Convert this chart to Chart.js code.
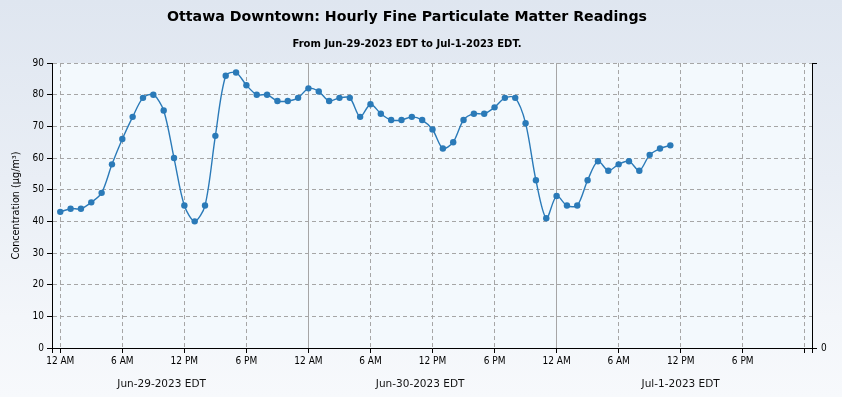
<!DOCTYPE html>
<html><head><meta charset="utf-8">
<script src="https://cdn.jsdelivr.net/npm/chart.js@4.4.1/dist/chart.umd.min.js"></script>
<style>
html,body{margin:0;padding:0;}
body{width:842px;height:397px;overflow:hidden;background:linear-gradient(to bottom,#dfe6f0 0%,#e9eef5 45%,#f3f6fa 80%,#f7f9fc 100%);}
#c{display:block;}
</style></head><body>
<canvas id="c" width="842" height="397"></canvas>
<script>
const titleText = "Ottawa Downtown: Hourly Fine Particulate Matter Readings";
const subtitleText = "From Jun-29-2023 EDT to Jul-1-2023 EDT.";
const yAxisTitle = "Concentration (µg/m³)";

// hours since 12 AM Jun-29-2023 EDT
const hours = [0,1,2,3,4,5,6,7,8,9,10,11,12,13,14,15,16,17,18,19,20,21,22,23,
  24,25,26,27,28,29,30,31,32,33,34,35,36,37,38,39,40,41,42,43,44,45,46,47,
  48,49,50,51,52,53,54,55,56,57,58,59];
// PM2.5 concentration (µg/m³)
const pm25 = [43,44,44,46,49,58,66,73,79,80,75,60,45,40,45,67,86,87,83,80,80,78,78,79,
  82,81,78,79,79,73,77,74,72,72,73,72,69,63,65,72,74,74,76,79,79,71,53,41,
  48,45,45,53,59,56,58,59,56,61,63,64];

const hourTicks = [0,6,12,18,24,30,36,42,48,54,60,66,72];
const hourTickLabels = ["12 AM","6 AM","12 PM","6 PM","12 AM","6 AM","12 PM","6 PM","12 AM","6 AM","12 PM","6 PM",""];
const dayBoundaryHours = [24,48];
const dayLabels = ["Jun-29-2023 EDT","Jun-30-2023 EDT","Jul-1-2023 EDT"];
const dayLabelHours = [9.8,34.8,60];
const yTicks = [0,10,20,30,40,50,60,70,80,90];

const X_MIN = -0.8, X_MAX = 72.7;
const FONT_C = "'DejaVu Sans Condensed','DejaVu Sans',sans-serif";
const FONT = "'DejaVu Sans',sans-serif";
const GRID = '#a6a6a6';
const LINE = '#2a7ab8';
const TITLE_SHIFT = 28; // titles are centred slightly left of the canvas centre

const plotBg = {
  id:'plotBg',
  beforeDraw(chart){
    const {ctx, chartArea:a} = chart;
    ctx.save();
    ctx.fillStyle = '#f3f9fd';
    ctx.fillRect(a.left, a.top, a.right-a.left, a.bottom-a.top);
    ctx.restore();
  }
};
const titleShift = {
  id:'titleShift',
  afterLayout(chart){
    chart.boxes.forEach(b=>{
      if (b.options && (b.options.text===titleText || b.options.text===subtitleText)) {
        b.right -= TITLE_SHIFT; b.width -= TITLE_SHIFT;
      }
    });
  }
};

new Chart(document.getElementById('c'), {
  type:'line',
  data:{datasets:[{
    data: hours.map((h,i)=>({x:h,y:pm25[i]})),
    borderColor: LINE, backgroundColor: LINE,
    borderWidth:1.4, pointRadius:3.2, pointHoverRadius:3.2, pointBorderWidth:0,
    tension:0.3, fill:false
  }]},
  options:{
    responsive:false, animation:false, devicePixelRatio:1,
    layout:{padding:0},
    plugins:{
      legend:{display:false}, tooltip:{enabled:false},
      title:{display:true, text:titleText, color:'#000',
        font:{family:FONT, size:14.2, weight:'bold'}, padding:{top:9,bottom:0}},
      subtitle:{display:true, text:subtitleText, color:'#000',
        font:{family:FONT, size:10, weight:'bold'}, padding:{top:12,bottom:13}}
    },
    scales:{
      x:{type:'linear', position:'bottom', min:X_MIN, max:X_MAX, weight:0,
        afterBuildTicks:s=>{ s.ticks=[X_MIN,...hourTicks,X_MAX].map(v=>({value:v})); },
        afterFit:s=>{ s.height=25; },
        ticks:{autoSkip:false, maxRotation:0, minRotation:0, color:'#000', padding:2,
          font:{family:FONT_C,size:10},
          callback:(v)=>{ const i=hourTicks.indexOf(v); return i>=0?hourTickLabels[i]:''; }},
        grid:{color:GRID, lineWidth:1, tickColor:'#000', tickLength:5, drawTicks:true},
        border:{display:true, color:'#000', width:1,
          dash:(ctx)=> (ctx.tick && dayBoundaryHours.includes(ctx.tick.value)) ? [] : [4,3]}
      },
      x2:{type:'linear', position:'bottom', min:X_MIN, max:X_MAX, weight:1,
        afterBuildTicks:s=>{ s.ticks=dayLabelHours.map(v=>({value:v})); },
        afterFit:s=>{ s.height=24; },
        ticks:{autoSkip:false, maxRotation:0, minRotation:0, color:'#111', padding:5,
          font:{family:FONT,size:10.5},
          callback:(v,i)=>dayLabels[i]},
        grid:{display:false, drawTicks:false},
        border:{display:false}
      },
      y:{type:'linear', position:'left', min:0, max:90,
        afterBuildTicks:s=>{ s.ticks=yTicks.map(v=>({value:v})); },
        afterFit:s=>{ s.width=52; },
        ticks:{color:'#000', padding:3, font:{family:FONT_C,size:10}},
        grid:{color:GRID, lineWidth:1, tickColor:'#000', tickLength:5},
        border:{display:true, color:'#000', width:1, dash:[4,3]},
        title:{display:true, text:yAxisTitle, color:'#000',
          font:{family:FONT,size:9.7}, padding:{top:11,bottom:0}}
      },
      y2:{type:'linear', position:'right', min:0, max:90,
        afterBuildTicks:s=>{ s.ticks=[0,90].map(v=>({value:v})); },
        afterFit:s=>{ s.width=30; },
        ticks:{color:'#000', padding:4, font:{family:FONT_C,size:10},
          callback:(v)=> v===0 ? '0' : ''},
        grid:{drawOnChartArea:false, tickColor:'#000', tickLength:5},
        border:{display:true, color:'#000', width:1}
      }
    }
  },
  plugins:[plotBg, titleShift]
});
</script>
</body></html>
